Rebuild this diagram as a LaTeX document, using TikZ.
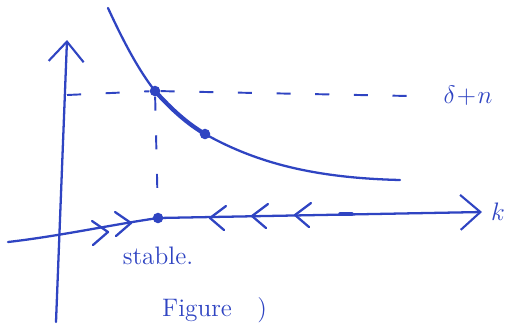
\documentclass[tikz,border=0pt]{standalone}
\usepackage{tikz}
\usetikzlibrary{arrows.meta, positioning, calc}
\definecolor{pen}{HTML}{2F44C2}

\begin{document}
\begin{tikzpicture}[
    x=0.02cm, y=-0.02cm,
    font=\Large,
    ink/.style={draw=pen, line width=1.3pt, line cap=round, line join=round},
    guide/.style={draw=pen, line width=1.1pt, dash pattern=on 8pt off 14pt},
    axis/.style={ink, -{Straight Barb[length=4mm, width=7mm, line width=1.2pt]}},
    dotmark/.style={circle, fill=pen, inner sep=0pt, minimum size=6pt},
    label/.style={text=pen, inner sep=1pt}
]
    \useasboundingbox (0,0) rectangle (524,326);

    % axes
    \coordinate (yfoot) at (56,322);
    \coordinate (ytop) at (67,40);
    \coordinate (xfoot) at (8,242);
    \coordinate (xtip) at (482,212);
    \node[dotmark] (stable) at (158,218) {};
    \draw[axis] (yfoot) -- (ytop);
    \draw[axis] (xfoot) .. controls (60,236) and (110,225) .. (stable.center) -- (xtip);
    \node[label, right=4pt of xtip] (klabel) {$k$};

    % curve and its points
    \node[dotmark] (upper) at (155,91) {};
    \node[dotmark] (lower) at (205,134) {};
    \draw[ink] (108,8) .. controls (125,45) and (140,72) .. (upper.center);
    \draw[ink, line width=2.4pt] (upper.center) .. controls (172,110) and (188,124) .. (lower.center);
    \draw[ink] (lower.center) .. controls (260,165) and (320,178) .. (400,180);

    % guides
    \draw[guide] (ytop |- upper) ++(0,4) -- (upper);
    \draw[guide] (upper) -- (410,96);
    \draw[guide] (upper) -- (stable);
    \node[label] (rate) at (468,96) {$\delta\!+\!n$};

    % flow on the axis
    \foreach \x/\y in {108/232, 131/223}
        \draw[ink] (\x-16,\y-11) -- (\x,\y) -- (\x-15,\y+13);
    \foreach \x/\y in {210/218, 252/216, 295/215}
        \draw[ink] (\x+16,\y-12) -- (\x,\y) -- (\x+14,\y+12);
    \draw[ink, line width=2pt] (340,214) -- (352,214);

    \node[label, below=12pt of stable] (stabletext) {stable.};
    \node[label, anchor=south west] (caption) at (160,325) {Figure\quad)};
\end{tikzpicture}
\end{document}
